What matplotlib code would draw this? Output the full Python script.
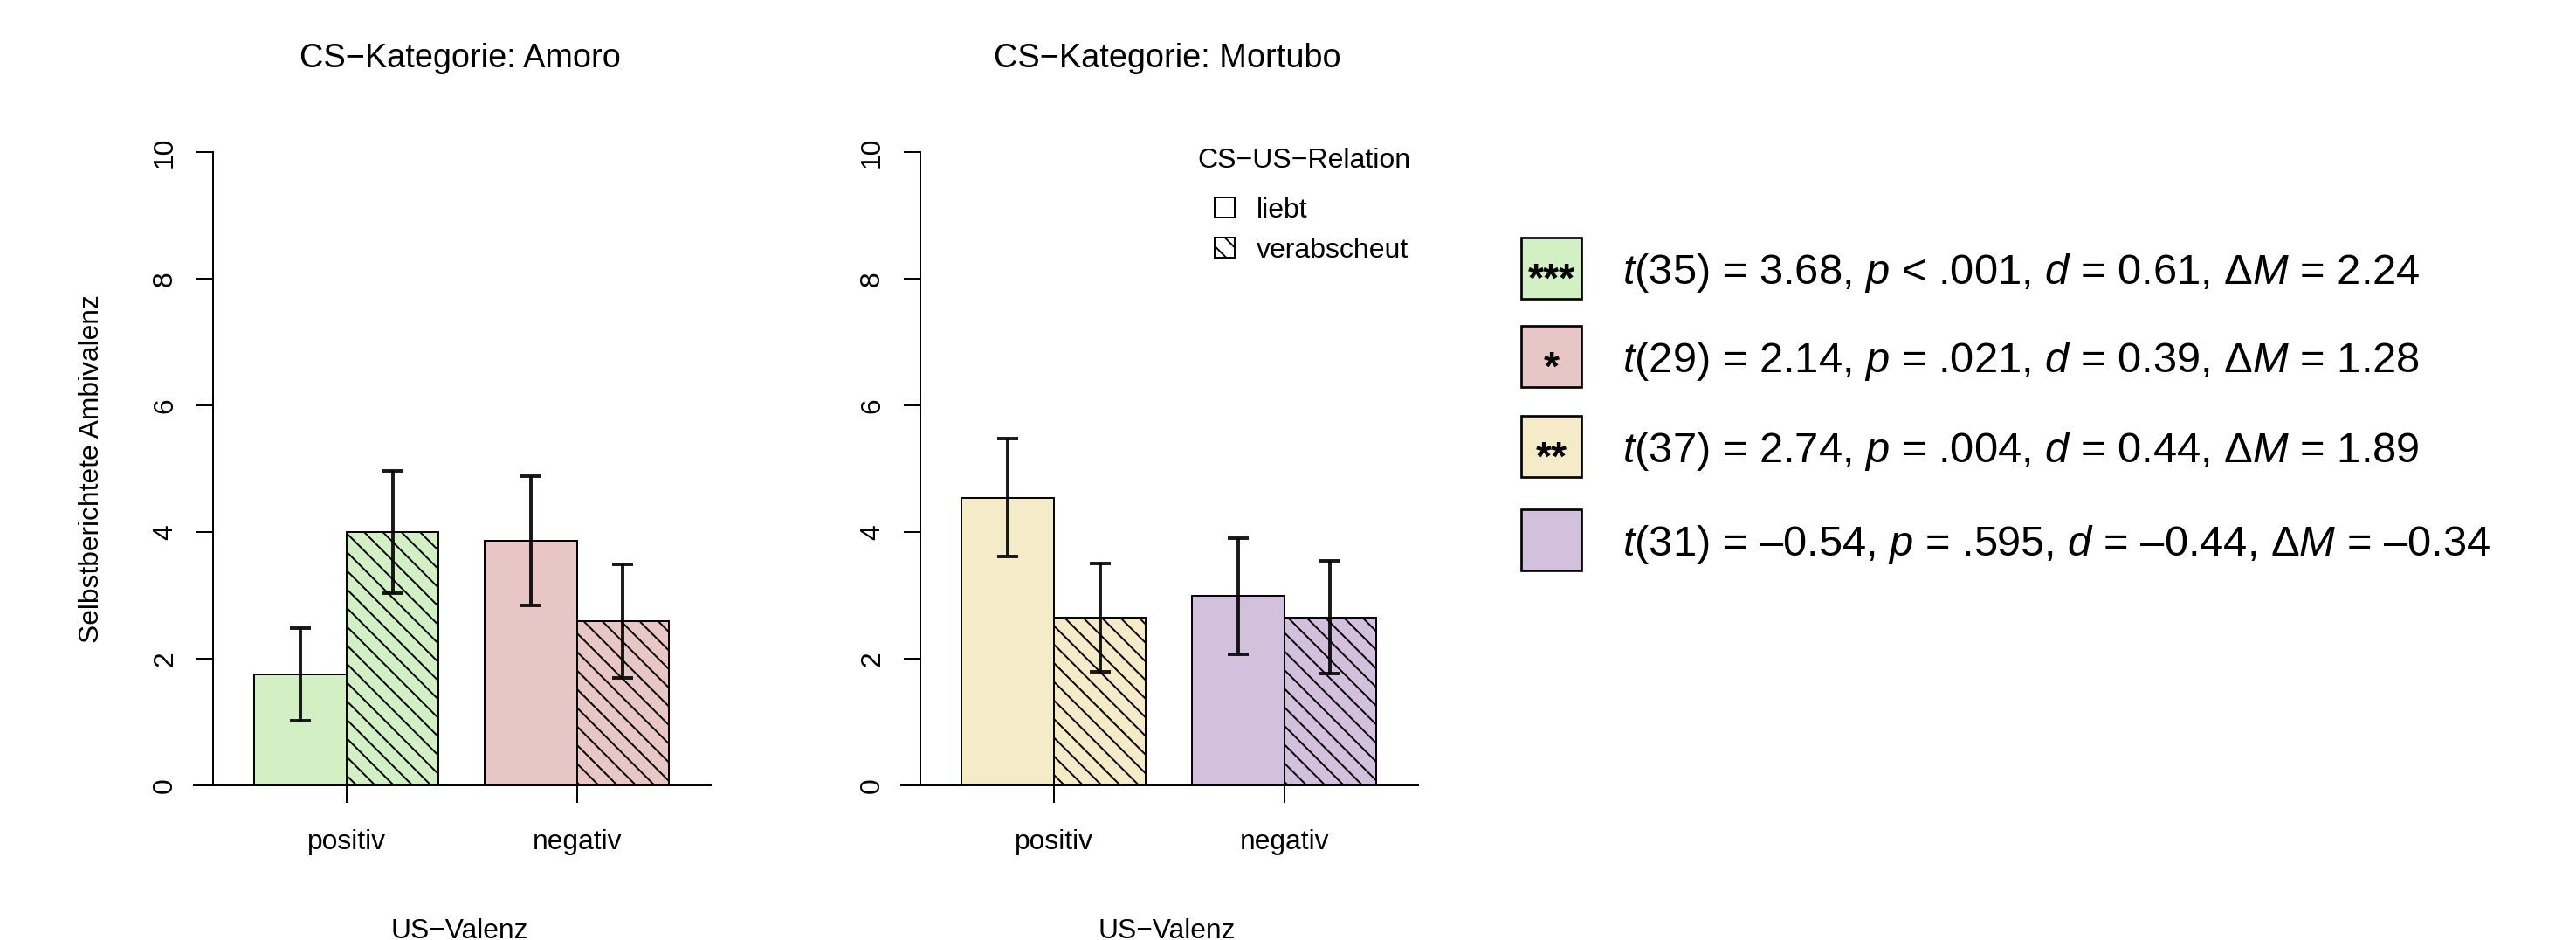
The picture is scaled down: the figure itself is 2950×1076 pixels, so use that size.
import matplotlib
matplotlib.use("Agg")
import matplotlib.pyplot as plt
from matplotlib.patches import Rectangle
import numpy as np

plt.rcParams['font.family'] = ['Liberation Sans', 'DejaVu Sans']
plt.rcParams['mathtext.fontset'] = 'custom'
plt.rcParams['mathtext.rm'] = 'Liberation Sans'
plt.rcParams['mathtext.it'] = 'Liberation Sans:italic'
plt.rcParams['hatch.linewidth'] = 1.1

DPI = 128
W, H = 2950, 1076


def pt(px):                      # pixels -> points at this dpi
    return px * 72 / DPI


# ---- data ----
valence = ['positiv', 'negativ']
relations = ['liebt', 'verabscheut']
y_ticks = [0, 2, 4, 6, 8, 10]

amoro_liebt = [1.75, 3.86]
amoro_verab = [4.00, 2.59]
amoro_ci_liebt = [0.73, 1.02]
amoro_ci_verab = [0.97, 0.90]
amoro_colors = ['#d3efc4', '#e8c6c5']

mortubo_liebt = [4.54, 2.99]
mortubo_verab = [2.65, 2.65]
mortubo_ci_liebt = [0.93, 0.92]
mortubo_ci_verab = [0.86, 0.89]
mortubo_colors = ['#f6ebc9', '#d3c0dc']

stat_colors = ['#d3efc4', '#e8c6c5', '#f6ebc9', '#d3c0dc']
stat_stars = ['***', '*', '**', '']
stat_df = [35, 29, 37, 31]
stat_t = [3.68, 2.14, 2.74, -0.54]
stat_p = ['< .001', '= .021', '= .004', '= .595']
stat_d = [0.61, 0.39, 0.44, -0.44]
stat_dm = [2.24, 1.28, 1.89, -0.34]

# ---- layout ----
group_x = np.array([1.5, 4.0])
XLIM = (-0.155, 5.615)
ax_w = 608.7 / W
ax_b = (H - 899) / H
ax_h = 754 / H

fig = plt.figure(figsize=(W / DPI, H / DPI), dpi=DPI)
ax1 = fig.add_axes([222.3 / W, ax_b, ax_w, ax_h])
ax2 = fig.add_axes([1032.4 / W, ax_b, ax_w, ax_h])


def panel(ax, title, liebt, verab, ci_l, ci_v, colors):
    ax.bar(group_x - 0.5, liebt, width=1, color=colors, edgecolor='black', linewidth=1.1)
    ax.bar(group_x + 0.5, verab, width=1, color=colors, edgecolor='black', linewidth=1.1,
           hatch='\\\\')
    for xs, ys, es in [(group_x - 0.5, liebt, ci_l), (group_x + 0.5, verab, ci_v)]:
        ax.errorbar(xs, ys, yerr=es, fmt='none', ecolor='black', alpha=0.9,
                    elinewidth=2.2, capsize=7, capthick=2.2)

    ax.set_xlim(*XLIM)
    ax.set_ylim(0, 10.4)
    ax.spines[['top', 'right']].set_visible(False)
    ax.spines['left'].set_position(('data', 0.05))
    ax.spines['left'].set_bounds(0, 10)
    ax.spines['bottom'].set_bounds(XLIM[0], 5.45)
    for s in ax.spines.values():
        s.set_linewidth(1.1)

    ax.set_yticks(y_ticks)
    ax.set_xticks(group_x, valence)
    ax.tick_params(width=1.1, labelsize=17.9)
    ax.tick_params(axis='y', length=pt(19), pad=pt(28))
    ax.tick_params(axis='x', length=pt(20), pad=pt(53))
    for lbl in ax.get_yticklabels():
        lbl.set(rotation=90, rotation_mode='anchor', ha='center', va='baseline')
    for lbl in ax.get_xticklabels():
        lbl.set_va('baseline')
    ax.set_title(title, fontsize=21.3, pad=pt(68.3))

    # x label sits right at the lower edge of the figure
    cx = (ax.get_position().x0 + ax.get_position().x1) / 2
    fig.text(cx, 1 - 1074.5 / H, 'US−Valenz', ha='center', va='baseline', fontsize=17.9)


panel(ax1, 'CS−Kategorie: Amoro', amoro_liebt, amoro_verab,
      amoro_ci_liebt, amoro_ci_verab, amoro_colors)
panel(ax2, 'CS−Kategorie: Mortubo', mortubo_liebt, mortubo_verab,
      mortubo_ci_liebt, mortubo_ci_verab, mortubo_colors)

fig.text(113 / W, 1 - 536.5 / H, 'Selbstberichtete Ambivalenz', rotation=90,
         rotation_mode='anchor', ha='center', va='baseline', fontsize=17.9)

# legend of the relation (plain vs hatched)
handles = [Rectangle((0, 0), 1, 1, facecolor='white', edgecolor='black', linewidth=1.1),
           Rectangle((0, 0), 1, 1, facecolor='white', edgecolor='black', linewidth=1.1,
                     hatch='\\\\')]
ax2.legend(handles, relations, loc='upper left',
           bbox_to_anchor=(1390.7 / W, 1 - 225.8 / H), bbox_transform=fig.transFigure,
           frameon=False, borderpad=0, borderaxespad=0, fontsize=18,
           handlelength=0.72, handleheight=0.72, handletextpad=0.8, labelspacing=0.5)
fig.text(1493 / W, 1 - 192 / H, 'CS−US−Relation', ha='center', va='baseline', fontsize=18)


# ---- test statistics on the right ----
def num(v):
    s = f"{abs(v):.2f}"
    return "–" + s if v < 0 else s


row_y = [307, 408, 511, 618]
for i, yc in enumerate(row_y):
    fig.add_artist(Rectangle((1742 / W, 1 - (yc + 35) / H), 69 / W, 70 / H,
                             transform=fig.transFigure, facecolor=stat_colors[i],
                             edgecolor='black', linewidth=1.5))
    if stat_stars[i]:
        fig.text(1776.5 / W, 1 - (yc + 27) / H, stat_stars[i], ha='center',
                 va='baseline', fontsize=26, fontweight='bold')
    label = (f"$t$({stat_df[i]}) = {num(stat_t[i])}, $p$ {stat_p[i]}, "
             f"$d$ = {num(stat_d[i])}, Δ$M$ = {num(stat_dm[i])}")
    fig.text(1858 / W, 1 - (yc + 18) / H, label, ha='left', va='baseline', fontsize=27.5)

fig.savefig('out.png', dpi=DPI)
